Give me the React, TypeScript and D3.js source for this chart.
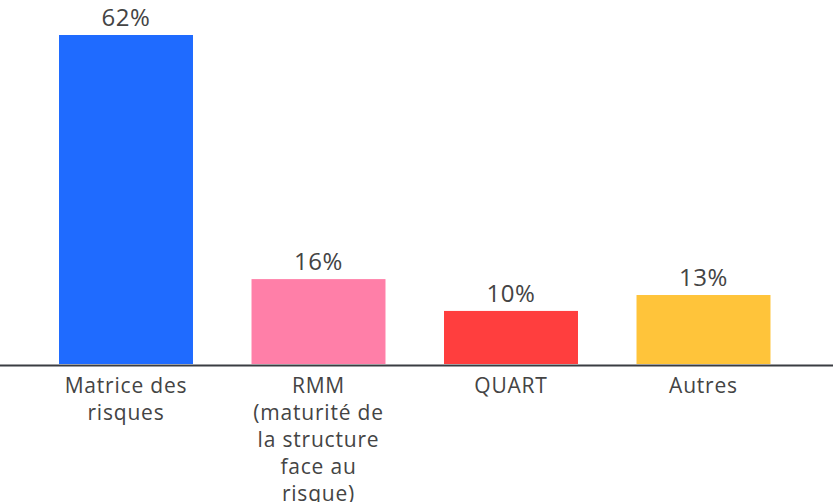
import React, { useEffect, useRef } from 'react';
import * as d3 from 'd3';

const categories = ['Matrice des risques', 'RMM', 'QUART', 'Autres'];
const labelLines = [
  ['Matrice des', 'risques'],
  ['RMM', '(maturité de', 'la structure', 'face au', 'risque)'],
  ['QUART'],
  ['Autres'],
];
const values = [62, 16, 10, 13];
const colors = ['#1f6bff', '#ff7fa8', '#ff3e3e', '#ffc43a'];

const width = 833;
const height = 502;

const App: React.FC = () => {
  const svgRef = useRef<SVGSVGElement>(null);

  useEffect(() => {
    if (!svgRef.current) return;
    const svg = d3.select(svgRef.current);
    svg.selectAll('*').remove();

    const baseline = 364;
    const font = "'Open Sans', 'Liberation Sans', sans-serif";

    const x = d3.scaleBand<string>()
      .domain(categories)
      .range([29.75, 799.75])
      .paddingInner(0.304)
      .paddingOuter(0.152);

    const y = d3.scaleLinear()
      .domain([0, 62])
      .range([baseline, 35]);

    // bars
    svg.append('g')
      .selectAll('rect')
      .data(values)
      .join('rect')
      .attr('x', (_, i) => x(categories[i])!)
      .attr('y', d => y(d))
      .attr('width', x.bandwidth())
      .attr('height', d => baseline - y(d))
      .attr('fill', (_, i) => colors[i]);

    // value labels
    svg.append('g')
      .selectAll('text')
      .data(values)
      .join('text')
      .attr('x', (_, i) => x(categories[i])! + x.bandwidth() / 2)
      .attr('y', d => y(d) - 9)
      .attr('text-anchor', 'middle')
      .style('font-family', font)
      .style('font-size', '24px')
      .style('letter-spacing', '0.5px')
      .style('fill', '#444')
      .text(d => `${d}%`);

    // baseline
    svg.append('line')
      .attr('x1', 0)
      .attr('x2', width)
      .attr('y1', baseline + 1.5)
      .attr('y2', baseline + 1.5)
      .attr('stroke', '#3a3d42')
      .attr('stroke-width', 2);

    // category labels
    categories.forEach((c, i) => {
      const t = svg.append('text')
        .attr('text-anchor', 'middle')
        .style('font-family', font)
        .style('font-size', '21px')
        .style('letter-spacing', '0.8px')
        .style('fill', '#444');
      labelLines[i].forEach((line, j) => {
        t.append('tspan')
          .attr('x', x(c)! + x.bandwidth() / 2)
          .attr('y', 393 + j * 27)
          .text(line);
      });
    });
  }, []);

  return (
    <svg
      ref={svgRef}
      width={width}
      height={height}
      style={{ position: 'absolute', left: 0, top: 0, background: '#fff' }}
    />
  );
};

export default App;
